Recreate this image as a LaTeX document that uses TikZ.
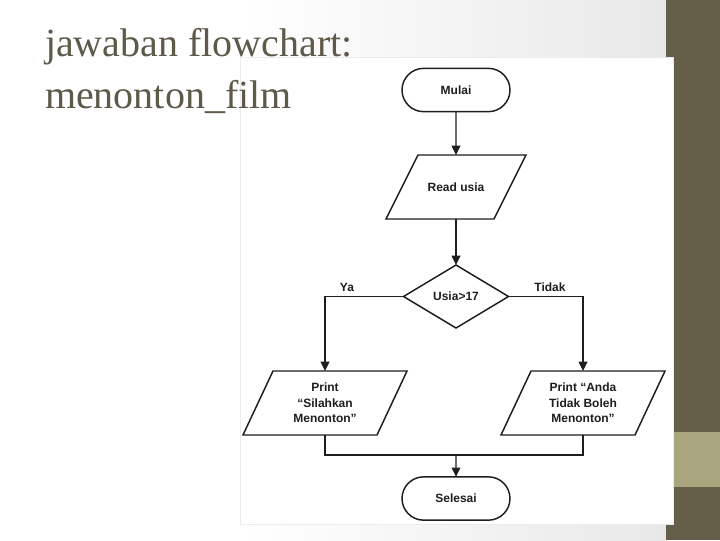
\documentclass[tikz,border=0pt]{standalone}
\usepackage{fontspec}
\setmainfont{Liberation Serif}
\newfontfamily\chartfont[Ligatures=TeX]{Liberation Sans}
\usetikzlibrary{arrows.meta,shapes.misc,shapes.geometric}
\definecolor{bardark}{RGB}{101,94,72}
\definecolor{barlight}{RGB}{169,165,126}
\definecolor{titlecol}{RGB}{94,89,72}
\definecolor{inkcol}{RGB}{30,30,30}
\definecolor{shadecol}{RGB}{232,232,232}
\newcommand\iodraw[2]{\draw[line] ([xshift=#2]#1.north west) -- ([xshift=#2]#1.north east) -- ([xshift=-#2]#1.south east) -- ([xshift=-#2]#1.south west) -- cycle;}
\begin{document}
\begin{tikzpicture}[x=0.75pt,y=-0.75pt,
  every node/.style={inner sep=0pt, outer sep=0pt},
  chart/.style={font=\chartfont\bfseries\fontsize{9pt}{11.6pt}\selectfont, text=inkcol, align=center},
  line/.style={draw=inkcol, line width=1.1pt},
  term/.style={chart, line, rounded rectangle, minimum width=81pt, minimum height=32.5pt},
  iobox/.style={chart, minimum width=#1, minimum height=48pt},
  decision/.style={chart, line, diamond, minimum width=78.75pt, minimum height=47.25pt},
  flow/.style={line, -{Triangle[length=7pt,width=6.5pt]}},
  lbl/.style={chart},
  titletext/.style={font=\fontsize{30pt}{39pt}\selectfont, text=titlecol, anchor=base west}
]
\useasboundingbox (0,0) rectangle (720,540);
\fill[white] (0,0) rectangle (720,540);
\shade[left color=white, right color=shadecol] (240,0) rectangle (666,540);
\fill[bardark] (666,0) rectangle (720,540);
\fill[barlight] (666,432) rectangle (720,487);
\filldraw[fill=white, draw=gray!15] (240,57) rectangle (673,524);

\node[titletext] (t1) at (45,56) {jawaban flowchart:};
\node[titletext] (t2) at (45,108) {menonton\_film};

\node[term] (mulai) at (456,90) {Mulai};
\node[iobox=81pt] (read) at (456,187) {Read usia};
\iodraw{read}{12pt}
\node[decision] (dec) at (456,296.5) {Usia>17};
\node[iobox=100.5pt] (yes) at (325,403) {Print\\“Silahkan\\Menonton”};
\iodraw{yes}{11.25pt}
\node[iobox=100.5pt] (no) at (583,403) {Print “Anda\\Tidak Boleh\\Menonton”};
\iodraw{no}{11.25pt}
\node[term] (selesai) at (456,498.5) {Selesai};
\node[lbl] (ya) at (347,287) {Ya};
\node[lbl] (tidak) at (550,287) {Tidak};
\coordinate (merge) at (456,455);

\draw[flow] (mulai) -- (read);
\draw[flow] (read) -- (dec);
\draw[flow] (dec.west) -| (yes.north);
\draw[flow] (dec.east) -| (no.north);
\draw[line] (yes.south) |- (merge) -| (no.south);
\draw[flow] (merge) -- (selesai);
\end{tikzpicture}
\end{document}
